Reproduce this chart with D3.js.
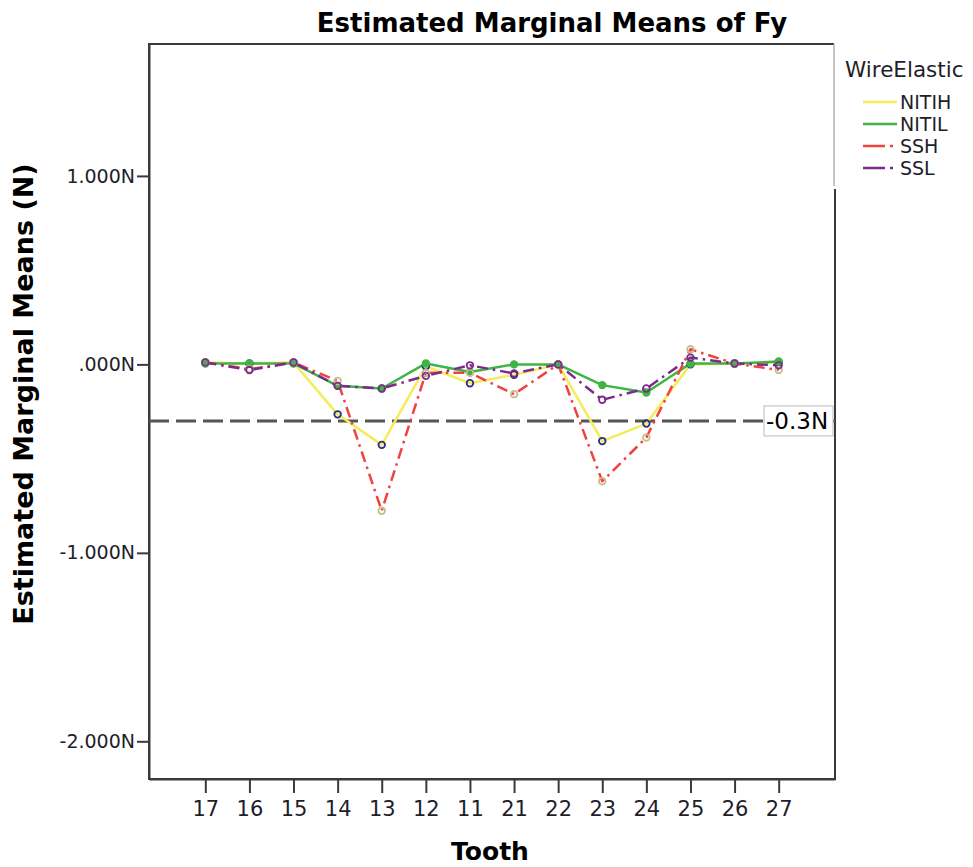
<!DOCTYPE html>
<html>
<head>
<meta charset="utf-8">
<script src="https://cdn.jsdelivr.net/npm/d3@7"></script>
<style>
  html, body { margin: 0; padding: 0; background: #fff; }
  svg { display: block; font-family: "DejaVu Sans", Verdana, sans-serif; }
</style>
</head>
<body>
<svg id="chart" width="973" height="867"></svg>
<script>
// Tooth positions along the arch, in plotted order
const teeth = ["17", "16", "15", "14", "13", "12", "11", "21", "22", "23", "24", "25", "26", "27"];

// Estimated marginal means of Fy (N) per wire/elastic group
const nitih = [0.010, 0.005, 0.010, -0.265, -0.427, -0.010, -0.100, -0.055, 0.000, -0.407, -0.314, 0.000, 0.005, 0.010];
const nitil = [0.005, 0.005, 0.005, -0.114, -0.128, 0.005, -0.040, 0.000, 0.000, -0.110, -0.149, 0.005, 0.005, 0.015];
const ssh   = [0.010, -0.025, 0.010, -0.088, -0.777, -0.045, -0.045, -0.158, 0.000, -0.620, -0.388, 0.080, 0.005, -0.030];
const ssl   = [0.010, -0.030, 0.010, -0.114, -0.128, -0.061, -0.005, -0.048, 0.000, -0.188, -0.128, 0.036, 0.005, -0.005];

const groupNames = ["NITIH", "NITIL", "SSH", "SSL"];
const yTicks = [1, 0, -1, -2];
const yTickLabels = ["1.000N", ".000N", "-1.000N", "-2.000N"];
const refValue = -0.3;
const refLabel = "-0.3N";

const series = [
  { name: groupNames[0], values: nitih, color: "#f4ec5a", dash: null,          marker: "#2b2f86", fill: "none" },
  { name: groupNames[1], values: nitil, color: "#3db545", dash: null,          marker: "#3db545", fill: "#3db545" },
  { name: groupNames[2], values: ssh,   color: "#f0423f", dash: "11,5,2.5,5", marker: "#c9bb8c", fill: "none" },
  { name: groupNames[3], values: ssl,   color: "#7d2b8b", dash: "11,5,2.5,5", marker: "#7d2b8b", fill: "none" }
];

const svg = d3.select("#chart");
const frame = { left: 149, right: 835, top: 44, bottom: 779 };

const x = d3.scalePoint()
  .domain(teeth)
  .range([frame.left, frame.right])
  .padding(1.277);

const y = d3.scaleLinear()
  .domain([-2.2, 1.7])
  .range([frame.bottom, frame.top]);

const ink = "#1e1e2a";

// Title
svg.append("text")
  .attr("x", 552)
  .attr("y", 31.5)
  .attr("text-anchor", "middle")
  .attr("font-size", 26)
  .attr("font-weight", "bold")
  .attr("fill", "#000")
  .text("Estimated Marginal Means of Fy");

// Plot frame
svg.append("rect")
  .attr("x", frame.left)
  .attr("y", frame.top)
  .attr("width", frame.right - frame.left)
  .attr("height", frame.bottom - frame.top)
  .attr("fill", "none")
  .attr("stroke", "#3a3a3a")
  .attr("stroke-width", 2);

// Y axis
const yAxis = svg.append("g")
  .attr("transform", `translate(${frame.left},0)`)
  .call(d3.axisLeft(y)
    .tickValues(yTicks)
    .tickFormat((d, i) => yTickLabels[i])
    .tickSize(12)
    .tickPadding(2)
    .tickSizeOuter(0));
yAxis.select(".domain").attr("stroke", "#3a3a3a").attr("stroke-width", 2);
yAxis.selectAll(".tick line").attr("stroke", "#3a3a3a").attr("stroke-width", 2);
yAxis.selectAll(".tick text")
  .attr("font-size", 19)
  .attr("font-family", "DejaVu Sans, sans-serif")
  .attr("fill", ink);

// X axis
const xAxis = svg.append("g")
  .attr("transform", `translate(0,${frame.bottom})`)
  .call(d3.axisBottom(x)
    .tickSize(14)
    .tickPadding(8)
    .tickSizeOuter(0));
xAxis.select(".domain").attr("stroke", "#3a3a3a").attr("stroke-width", 2);
xAxis.selectAll(".tick line").attr("stroke", "#3a3a3a").attr("stroke-width", 2);
xAxis.selectAll(".tick text")
  .attr("font-size", 21)
  .attr("font-family", "DejaVu Sans, sans-serif")
  .attr("fill", ink);

// Axis titles
svg.append("text")
  .attr("transform", "translate(33,394) rotate(-90)")
  .attr("text-anchor", "middle")
  .attr("font-size", 27)
  .attr("font-weight", "bold")
  .attr("fill", "#000")
  .text("Estimated Marginal Means (N)");

svg.append("text")
  .attr("x", 490)
  .attr("y", 860)
  .attr("text-anchor", "middle")
  .attr("font-size", 25)
  .attr("font-weight", "bold")
  .attr("fill", "#000")
  .text("Tooth");

// Reference line at -0.3 N
svg.append("line")
  .attr("x1", frame.left)
  .attr("x2", frame.right)
  .attr("y1", y(refValue))
  .attr("y2", y(refValue))
  .attr("stroke", "#555")
  .attr("stroke-width", 3)
  .attr("stroke-dasharray", "20,7");

// Series lines and markers
const line = d3.line()
  .x((d, i) => x(teeth[i]))
  .y(d => y(d));

series.forEach(s => {
  svg.append("path")
    .datum(s.values)
    .attr("d", line)
    .attr("fill", "none")
    .attr("stroke", s.color)
    .attr("stroke-width", 2.5)
    .attr("stroke-dasharray", s.dash)
    .attr("stroke-linejoin", "round");
});

series.forEach(s => {
  svg.append("g")
    .selectAll("circle")
    .data(s.values)
    .join("circle")
    .attr("cx", (d, i) => x(teeth[i]))
    .attr("cy", d => y(d))
    .attr("r", 3.3)
    .attr("fill", s.fill === "none" ? "#fff" : s.fill)
    .attr("fill-opacity", s.fill === "none" ? 0 : 1)
    .attr("stroke", s.marker)
    .attr("stroke-width", 1.8);
});

// Reference line label
const refY = y(refValue);
svg.append("rect")
  .attr("x", 764)
  .attr("y", refY - 15)
  .attr("width", 69)
  .attr("height", 30)
  .attr("fill", "#fff")
  .attr("stroke", "#bbb")
  .attr("stroke-width", 1);
svg.append("text")
  .attr("x", 766)
  .attr("y", refY + 8.5)
  .attr("font-size", 23)
  .attr("fill", "#000")
  .text(refLabel);

// Legend panel
svg.append("rect")
  .attr("x", 834)
  .attr("y", 43)
  .attr("width", 139)
  .attr("height", 146)
  .attr("fill", "#fff");
svg.append("line")
  .attr("x1", 834).attr("x2", 834)
  .attr("y1", 44).attr("y2", 186)
  .attr("stroke", "#b0b0b0")
  .attr("stroke-width", 1.5);

svg.append("text")
  .attr("x", 845)
  .attr("y", 76.5)
  .attr("font-size", 21.5)
  .attr("fill", ink)
  .text("WireElastic");

const legendItems = svg.append("g")
  .selectAll("g")
  .data(series)
  .join("g")
  .attr("transform", (d, i) => `translate(0,${108.5 + i * 22})`);

legendItems.append("line")
  .attr("x1", 863)
  .attr("x2", 897)
  .attr("y1", -6.5)
  .attr("y2", -6.5)
  .attr("stroke", d => d.color)
  .attr("stroke-width", 2.5)
  .attr("stroke-dasharray", d => d.dash ? "22,5,3,5" : null);

legendItems.append("text")
  .attr("x", 900)
  .attr("y", 0)
  .attr("font-size", 19)
  .attr("fill", ink)
  .text(d => d.name);
</script>
</body>
</html>
